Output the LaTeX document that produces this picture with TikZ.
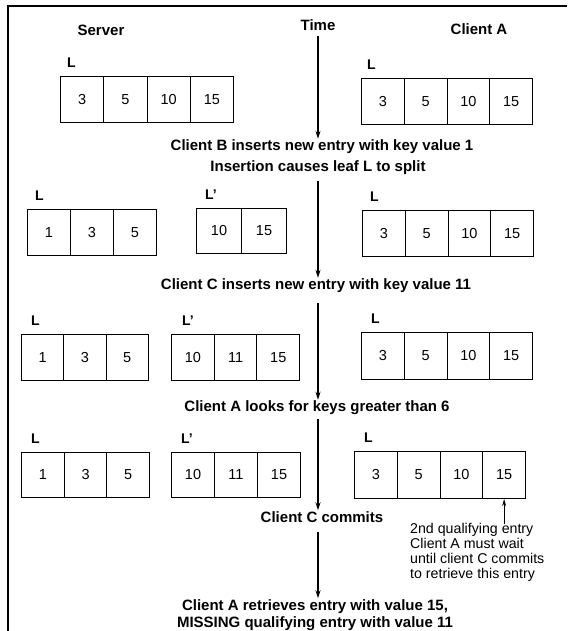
\documentclass[tikz,border=0pt]{standalone}
\usepackage{fontspec}
\setmainfont{Liberation Sans}
\usetikzlibrary{positioning,arrows.meta,calc}

% one leaf page: name, x, y, cell width, cell height, values
\newcommand{\leafpage}[6]{%
  \foreach \v [count=\i] in {#6} {
    \node[cell, minimum width=#4pt, minimum height=#5pt] (#1-\i) at ({#2+(\i-1)*#4}, #3) {\v};
  }%
}

\begin{document}
\begin{tikzpicture}[x=1pt, y=-1pt,
    every node/.style={font=\fontsize{14.5}{16}\selectfont},
    lbl/.style={font=\fontsize{15}{17}\selectfont\bfseries, inner sep=1pt},
    leaflbl/.style={font=\fontsize{14}{16}\selectfont\bfseries, inner sep=0pt},
    cell/.style={draw, line width=1pt, inner sep=0pt, anchor=north west},
    timeline/.style={line width=1.4pt, -{Stealth[length=8pt,width=5pt]}}]
  \useasboundingbox (0,0) rectangle (567,631);

  % frame
  \draw[line width=2.2pt] (567,6) -- (8,6) -- (8,631);

  % headings
  \node[lbl] (server)  at (101,30) {Server};
  \node[lbl] (time)    at (318,25) {Time};
  \node[lbl] (clientA) at (479,29) {Client A};

  % events
  \node[lbl] (evB)    at (322,147) {Client B inserts new entry with key value 1};
  \node[lbl] (split)  at (318,168) {Insertion causes leaf L to split};
  \node[lbl] (evC)    at (316,286) {Client C inserts new entry with key value 11};
  \node[lbl] (look)   at (317,408) {Client A looks for keys greater than 6};
  \node[lbl] (commit) at (322,517) {Client C commits};
  \node[lbl, align=center, font=\fontsize{15}{17}\selectfont\bfseries] (miss) at (315,615)
    {Client A retrieves entry with value 15,\\MISSING qualifying entry with value 11};

  % leaf pages, row 1
  \leafpage{s1}{60}{76}{43.25}{46}{3,5,10,15}
  \leafpage{a1}{361}{78}{42.75}{46}{3,5,10,15}
  % row 2
  \leafpage{s2}{27}{209}{43}{46}{1,3,5}
  \leafpage{p2}{196}{208}{45}{45}{10,15}
  \leafpage{a2}{362}{210}{42.75}{46}{3,5,10,15}
  % row 3
  \leafpage{s3}{21}{334}{42.3}{46}{1,3,5}
  \leafpage{p3}{171}{334}{42.7}{46}{10,11,15}
  \leafpage{a3}{361}{332}{42.75}{47}{3,5,10,15}
  % row 4
  \leafpage{s4}{21}{452}{42.7}{45}{1,3,5}
  \leafpage{p4}{171}{452}{43}{45}{10,11,15}
  \leafpage{a4}{354}{451}{42.75}{47}{3,5,10,15}

  % leaf labels
  \node[leaflbl, above right=8pt and 7pt of s1-1.north west] (s1L) {L};
  \node[leaflbl, above right=8pt and 6pt of a1-1.north west] (a1L) {L};
  \node[leaflbl, above right=8pt and 8pt of s2-1.north west] (s2L) {L};
  \node[leaflbl, above right=8pt and 9pt of p2-1.north west] (p2L) {L'};
  \node[leaflbl, above right=8pt and 8pt of a2-1.north west] (a2L) {L};
  \node[leaflbl, above right=8pt and 10pt of s3-1.north west] (s3L) {L};
  \node[leaflbl, above right=8pt and 11pt of p3-1.north west] (p3L) {L'};
  \node[leaflbl, above right=8pt and 10pt of a3-1.north west] (a3L) {L};
  \node[leaflbl, above right=8pt and 10pt of s4-1.north west] (s4L) {L};
  \node[leaflbl, above right=8pt and 10pt of p4-1.north west] (p4L) {L'};
  \node[leaflbl, above right=8pt and 10pt of a4-1.north west] (a4L) {L};

  % note on the last entry
  \node[align=left, anchor=north west, inner sep=0pt,
        font=\fontsize{14.2}{15}\selectfont] (note) at (410,523)
    {2nd qualifying entry\\Client A must wait\\until client C commits\\to retrieve this entry};
  \draw[line width=1pt, -{Stealth[length=7pt,width=4pt]}]
    ([yshift=-1pt]note.north -| a4-4.south) -- (a4-4.south);

  % time axis
  \draw[timeline] ([yshift=-4pt]time.south) -- (time.south |- evB.north);
  \draw[timeline] ([yshift=-5pt]split.south -| time.south) -- (time.south |- evC.north);
  \draw[timeline] ([yshift=-9pt]evC.south -| time.south) -- (time.south |- look.north);
  \draw[timeline] ([yshift=-3pt]look.south -| time.south) -- (time.south |- commit.north);
  \draw[timeline] ([yshift=-8pt]commit.south -| time.south) -- (time.south |- miss.north);
\end{tikzpicture}
\end{document}
